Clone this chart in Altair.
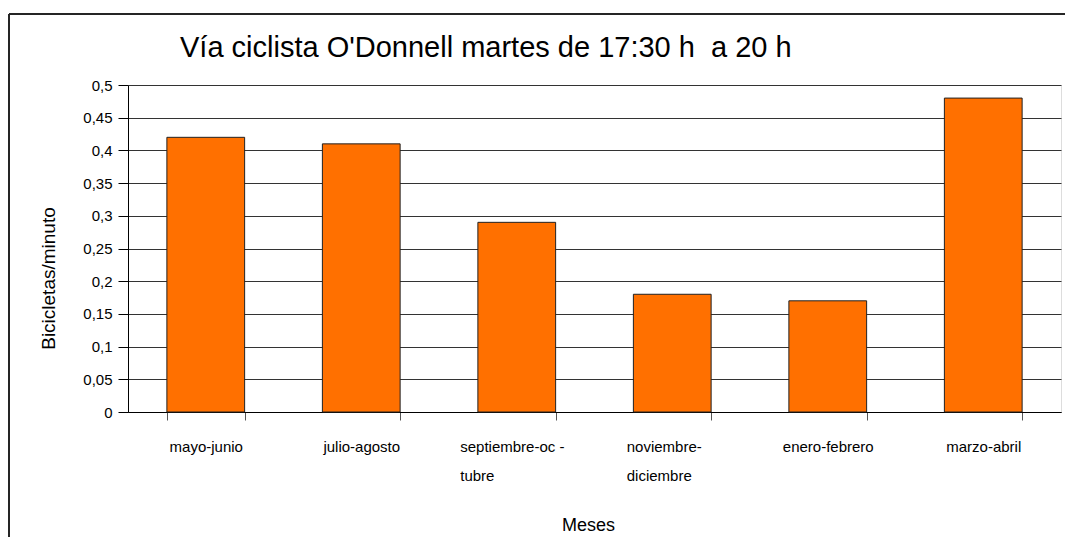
import altair as alt
import pandas as pd

categories = ["mayo-junio", "julio-agosto", "septiembre-octubre",
              "noviembre-diciembre", "enero-febrero", "marzo-abril"]
values = [0.42, 0.41, 0.29, 0.18, 0.17, 0.48]
label_lines = [
    ["mayo-junio"],
    ["julio-agosto"],
    ["septiembre-oc -", "tubre"],
    ["noviembre-", "diciembre"],
    ["enero-febrero"],
    ["marzo-abril"],
]
y_ticks = [0, 0.05, 0.1, 0.15, 0.2, 0.25, 0.3, 0.35, 0.4, 0.45, 0.5]
NB = "\u00a0"
title_text = "Vía ciclista O'Donnell martes de 17:30 h " + NB + "a 20 h"
y_title = "Bicicletas/minuto"
x_title = "Meses"

df = pd.DataFrame({"mes": categories, "valor": values})

def lines_expr(lines):
    return "[" + ",".join("'" + l + "'" for l in lines) + "]"

expr = "''"
for cat, lines in reversed(list(zip(categories, label_lines))):
    expr = f"datum.value == '{cat}' ? {lines_expr(lines)} : ({expr})"

FONT = "Liberation Sans"
W, H = 933, 327

left_cond = "datum.value == 'septiembre-octubre' || datum.value == 'noviembre-diciembre'"

bars = alt.Chart(df).mark_bar(
    color="#FF7000", stroke="#222222", strokeWidth=1
).encode(
    x=alt.X("mes:N", sort=categories,
            scale=alt.Scale(paddingInner=0.5, paddingOuter=0.25),
            axis=alt.Axis(title=x_title, labelAngle=0, labelExpr=expr,
                          labelAlign={"condition": {"test": left_cond, "value": "left"},
                                      "value": "center"},
                          labelOffset={"condition": [
                              {"test": "datum.value == 'septiembre-octubre'", "value": -57},
                              {"test": "datum.value == 'noviembre-diciembre'", "value": -46}],
                              "value": 0},
                          tickBand="extent", tickSize=8, tickColor="#555555",
                          domainColor="#000000", labelFont=FONT, labelFontSize=15,
                          labelColor="#000000", labelPadding=19, labelLineHeight=29,
                          titleFont=FONT, titleFontSize=18, titleFontWeight="normal",
                          titleColor="#000000", titleX=460, titleY=118,
                          titleAlign="center", titleBaseline="alphabetic", grid=False)),
    y=alt.Y("valor:Q", scale=alt.Scale(domain=[0, 0.5], nice=False),
            axis=alt.Axis(title=y_title, values=y_ticks,
                          labelExpr="replace('' + datum.value, '.', ',')",
                          tickSize=10, tickColor="#000000", domainColor="#000000",
                          gridColor="#333333", gridWidth=1, grid=True,
                          labelFont=FONT, labelFontSize=15, labelColor="#000000",
                          labelPadding=6, titleFont=FONT, titleFontSize=19,
                          titleFontWeight="normal", titleColor="#000000",
                          titleX=-70, titleY=193, titleAngle=270,
                          titleAlign="center", titleBaseline="bottom")),
)

border = alt.Chart(df).mark_rect(
    fill=None, stroke="#222222", strokeWidth=1
).encode(
    x=alt.value(-119), y=alt.value(-71), x2=alt.value(W + 40), y2=alt.value(H + 160)
)

title = alt.Chart(df).transform_aggregate(n="count()").mark_text(
    text=title_text, font=FONT, fontSize=29, align="left", baseline="alphabetic",
    color="#000000"
).encode(x=alt.value(52), y=alt.value(-28))

chart = alt.layer(border, bars, title).properties(
    width=W, height=H,
    autosize=alt.AutoSizeParams(type="none"),
    padding={"left": 120, "top": 77, "right": 4, "bottom": 125},
).configure_view(stroke=None).configure(background="white")

chart.save("out.html", embed_options={"renderer": "svg", "actions": False})
